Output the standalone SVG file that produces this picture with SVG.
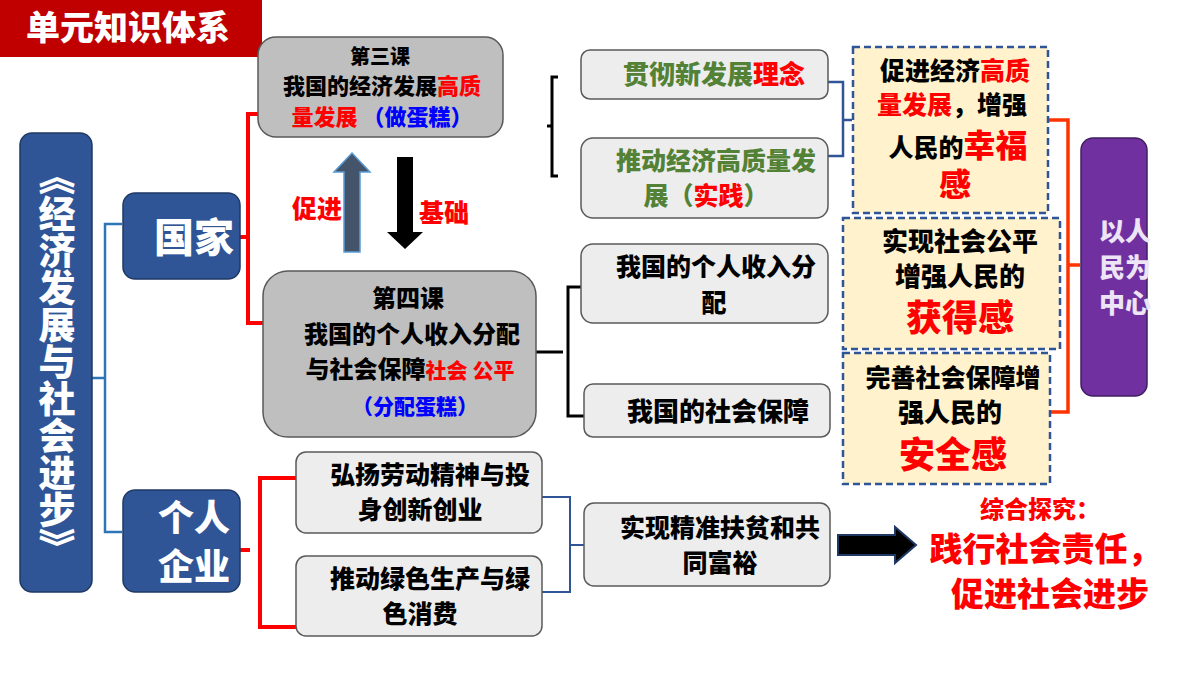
<svg xmlns="http://www.w3.org/2000/svg" width="1200" height="675" viewBox="0 0 1200 675">
<style>
text{font-family:"Noto Sans CJK SC","Noto Sans",sans-serif;font-weight:900;text-anchor:middle}
.blue{fill:#2F5597;stroke:#1F3864;stroke-width:1.5}
.gray{fill:#BFBFBF;stroke:#595959;stroke-width:1.5}
.lg{fill:#EDEDED;stroke:#595959;stroke-width:1.5}
.dash{fill:#FFF2CC;stroke:#2F5597;stroke-width:2.5;stroke-dasharray:7 4}
.r{fill:#FF0000}.g{fill:#538135}.b{fill:#0000FF}.k{fill:#000}
.w{fill:#fff}
</style>
<rect width="1200" height="675" fill="#fff"/>
<g id="title"><rect x="0" y="0" width="262" height="57" fill="#C00000"/><text x="128" y="40" font-size="34" class="w">单元知识体系</text></g>
<g id="connectors" fill="none">
<path d="M92 378H105M122 224H105V532H122" stroke="#2E75B6" stroke-width="2.5"/>
<path d="M240 237H248M258 114H248V323H265" stroke="#FF0000" stroke-width="4"/>
<path d="M558 77H552V176H558M552 126H547" stroke="#000" stroke-width="3"/>
<path d="M828 82H843V156H828M843 120H852" stroke="#2F5597" stroke-width="2.5"/>
<path d="M536 352H563M581 287H568V416H584" stroke="#000" stroke-width="3"/>
<path d="M1048 120H1068V412H1050M1068 265H1080" stroke="#FF3300" stroke-width="3.5"/>
<path d="M240 550H250M296 478H260V627H296" stroke="#FF0000" stroke-width="4"/>
<path d="M542 497H570V592H542M570 545H584" stroke="#2F5597" stroke-width="2"/>
<path d="M344 252V172H334L352 153L370 172H360V252Z" fill="#44546A" stroke="#5B9BD5" stroke-width="1.5"/>
<path d="M397 157H413V232H423L405 249L387 232H397Z" fill="#000"/>
<path d="M838 535H895V527L916 545L895 563V555H838Z" fill="#000" stroke="#1F3864" stroke-width="2"/>
</g>
<text x="317" y="218" font-size="25" class="r">促进</text>
<text x="444" y="222" font-size="25" class="r">基础</text>
<g id="left"><rect x="20" y="133" width="72" height="459" rx="12" class="blue"/><text x="57" y="158" font-size="37" class="w" style="writing-mode:vertical-rl;text-anchor:start">《经济发展与社会进步》</text></g>
<g id="guojia"><rect x="123" y="193" width="117" height="86" rx="12" class="blue"/><text x="194" y="252" font-size="40" class="w">国家</text></g>
<g id="geren"><rect x="123" y="490" width="117" height="102" rx="12" class="blue"/><text x="194" y="531" font-size="36" class="w">个人</text><text x="194" y="580" font-size="36" class="w">企业</text></g>
<g id="k3"><rect x="258" y="37" width="245" height="100" rx="18" class="gray"/><text x="380" y="64" font-size="20" class="k">第三课</text><text x="382" y="94" font-size="22" class="k">我国的经济发展<tspan class="r">高质</tspan></text><text x="382" y="125" font-size="22" class="r">量发展 <tspan class="b">（做蛋糕）</tspan></text></g>
<g id="k4"><rect x="263" y="271" width="273" height="166" rx="25" class="gray"/><text x="408" y="307" font-size="24" class="k">第四课</text><text x="412" y="343" font-size="24" class="k">我国的个人收入分配</text><text x="410" y="378" font-size="24" class="k">与社会保障<tspan class="r" font-size="21">社会 公平</tspan></text><text x="415" y="414" font-size="21" class="b">（分配蛋糕）</text></g>
<g id="n1"><rect x="581" y="50" width="247" height="49" rx="9" class="lg"/><text x="714" y="84" font-size="26" class="g">贯彻新发展<tspan class="r">理念</tspan></text></g>
<g id="n2"><rect x="581" y="138" width="247" height="80" rx="12" class="lg"/><text x="716" y="170" font-size="25" class="g">推动经济高质量发</text><text x="706" y="205" font-size="25" class="g">展（<tspan class="r">实践</tspan>）</text></g>
<g id="n3"><rect x="581" y="244" width="247" height="79" rx="12" class="lg"/><text x="716" y="276" font-size="25" class="k">我国的个人收入分</text><text x="714" y="312" font-size="25" class="k">配</text></g>
<g id="n4"><rect x="584" y="384" width="246" height="53" rx="9" class="lg"/><text x="718" y="421" font-size="26" class="k">我国的社会保障</text></g>
<g id="d1"><rect x="853" y="47" width="195" height="166" class="dash"/><text x="955" y="80" font-size="25" class="k">促进经济<tspan class="r">高质</tspan></text><text x="952" y="114" font-size="25" class="r">量发展<tspan class="k">，增强</tspan></text><text x="958" y="157" font-size="32" class="k"><tspan font-size="25">人民的</tspan><tspan class="r">幸福</tspan></text><text x="955" y="196" font-size="32" class="r">感</text></g>
<g id="d2"><rect x="843" y="218" width="217" height="131" class="dash"/><text x="960" y="251" font-size="26" class="k">实现社会公平</text><text x="960" y="286" font-size="26" class="k">增强人民的</text><text x="960" y="331" font-size="36" class="r">获得感</text></g>
<g id="d3"><rect x="843" y="353" width="207" height="131" class="dash"/><text x="953" y="387" font-size="25" class="k">完善社会保障增</text><text x="950" y="422" font-size="26" class="k">强人民的</text><text x="953" y="468" font-size="36" class="r">安全感</text></g>
<g id="center"><rect x="1081" y="138" width="66" height="258" rx="12" fill="#7030A0" stroke="#3F1F5F" stroke-width="1.5"/><text x="1125" y="241" font-size="26" fill="#EDE4F5">以人</text><text x="1125" y="277" font-size="26" fill="#EDE4F5">民为</text><text x="1125" y="313" font-size="26" fill="#EDE4F5">中心</text></g>
<g id="n5"><rect x="296" y="452" width="246" height="81" rx="10" class="lg"/><text x="430" y="484" font-size="25" class="k">弘扬劳动精神与投</text><text x="420" y="519" font-size="25" class="k">身创新创业</text></g>
<g id="n6"><rect x="296" y="556" width="246" height="80" rx="10" class="lg"/><text x="430" y="588" font-size="25" class="k">推动绿色生产与绿</text><text x="420" y="623" font-size="25" class="k">色消费</text></g>
<g id="n7"><rect x="584" y="503" width="246" height="83" rx="10" class="lg"/><text x="720" y="537" font-size="25" class="k">实现精准扶贫和共</text><text x="720" y="572" font-size="25" class="k">同富裕</text></g>
<g id="explore"><text x="1040" y="518" font-size="24" class="r">综合探究：</text><text x="1045" y="561" font-size="33" class="r">践行社会责任，</text><text x="1050" y="606" font-size="33" class="r">促进社会进步</text></g>
</svg>
